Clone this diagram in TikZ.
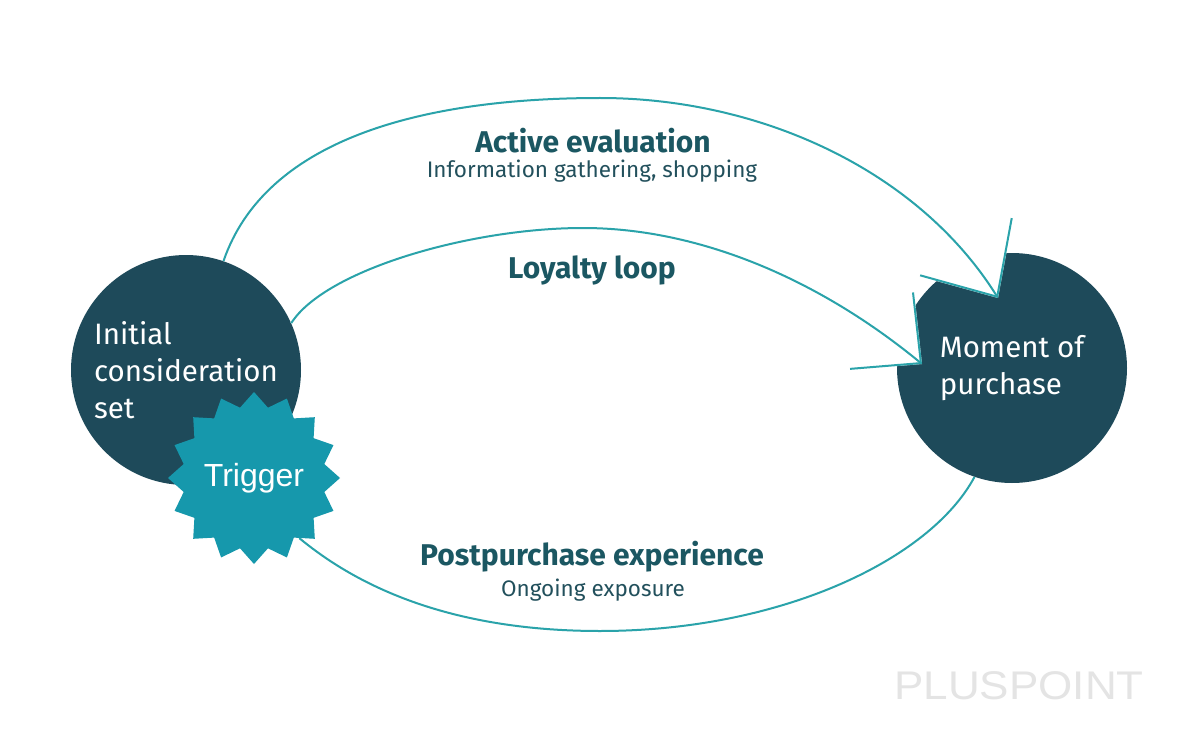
\documentclass[tikz,border=0pt]{standalone}
\usepackage{fontspec}
\setmainfont{Fira Sans}
\newfontfamily\arialf{Liberation Sans}
\usetikzlibrary{shapes.geometric,arrows.meta}
\definecolor{circc}{HTML}{1E4A5A}
\definecolor{starc}{HTML}{1698AC}
\definecolor{linec}{HTML}{2AA3AA}
\definecolor{headc}{HTML}{1B5762}
\definecolor{subc}{HTML}{22505C}
\definecolor{markc}{HTML}{E4E4E4}
\begin{document}
\begin{tikzpicture}[x=1pt,y=-1pt,
  bigcirc/.style={circle, fill=circc, minimum size=230pt, inner sep=0pt, text=white,
    font=\fontsize{29.5}{37}\selectfont, align=left},
  trigstar/.style={star, star points=16, star point ratio=1.2, minimum size=172pt,
    fill=starc, inner sep=0pt, text=white, font=\arialf\fontsize{32}{32}\selectfont},
  flow/.style={draw=linec, line width=2pt},
  whitehead/.style={draw=white, line width=2pt},
  head/.style={text=headc, font=\bfseries\fontsize{30}{30}\selectfont, inner sep=0pt},
  sub/.style={text=subc, font=\fontsize{22.5}{22.5}\selectfont, inner sep=0pt},
  wmark/.style={text=markc, font=\arialf\fontsize{40}{40}\selectfont, inner sep=0pt, xscale=1.1},
]
\useasboundingbox[fill=white] (0,0) rectangle (1200,749);

\node[bigcirc] (ics) at (186,370) {Initial\\consideration\\set};
\node[bigcirc] (mop) at (1012,368) {Moment of\\purchase};
\node[trigstar] (trig) at (254,478) {Trigger};

\coordinate (tipA) at (998,298);
\coordinate (tipB) at (922,364);

% white arrowhead areas
\draw[whitehead, -{Triangle[length=59pt,width=108pt,fill=white]}]
  (ics.71) .. controls (265,140) and (420,98) .. (600,98)
  .. controls (760,98) and (918,170) .. (tipA);
\draw[whitehead, -{Triangle[length=51pt,width=99pt,fill=white]}]
  (ics.24) .. controls (325,270) and (470,228) .. (583,228)
  .. controls (700,228) and (820,280) .. (tipB);

% connectors
\draw[flow, -{Straight Barb[length=59pt,width=108pt]}]
  (ics.71) .. controls (265,140) and (420,98) .. (600,98)
  .. controls (760,98) and (918,170) .. (tipA);
\draw[flow, -{Straight Barb[length=51pt,width=99pt]}]
  (ics.24) .. controls (325,270) and (470,228) .. (583,228)
  .. controls (700,228) and (820,280) .. (tipB);
\draw[flow]
  (mop.251) .. controls (930,560) and (780,631) .. (600,631)
  .. controls (440,631) and (350,580) .. (trig.-53);

\node[head] (ae) at (593,141) {Active evaluation};
\node[sub] (ig) at (592,171) {Information gathering, shopping};
\node[head] (ll) at (592,270) {Loyalty loop};
\node[head] (pe) at (592,557) {Postpurchase experience};
\node[sub] (oe) at (593,590) {Ongoing exposure};
\node[wmark] (pp) at (1019,686) {PLUSPOINT};
\end{tikzpicture}
\end{document}
